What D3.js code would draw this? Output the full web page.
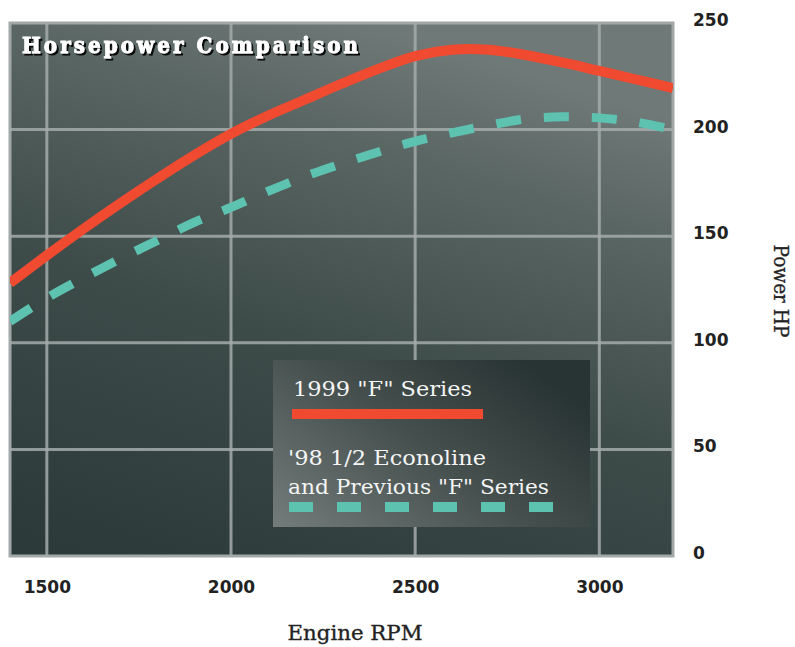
<!DOCTYPE html>
<html>
<head>
<meta charset="utf-8">
<script src="https://cdn.jsdelivr.net/npm/d3@7"></script>
<style>
  body { margin: 0; background: #fff; }
</style>
</head>
<body>
<div id="chart"></div>
<script>
// data
const rpm = [1400, 1500, 1600, 1700, 1800, 1900, 2000, 2100, 2200, 2300, 2400, 2500, 2600, 2700, 2800, 2900, 3000, 3100, 3200];
const hp1999F = [128, 141, 153.5, 165.5, 177, 188, 198, 206.5, 214, 221.5, 228.5, 234.5, 237.5, 237.5, 235, 231.5, 227.5, 223.5, 219.5];
const hpEconoline = [110, 121, 130.5, 139.5, 148, 156.5, 163.5, 171, 178, 184, 189.5, 194.5, 198.5, 202, 205, 206, 205.5, 203.5, 200];
const xTicks = [1500, 2000, 2500, 3000];
const yTicks = [0, 50, 100, 150, 200, 250];
const chartTitle = 'Horsepower Comparison';
const legendRed = ['1999 "F" Series'];
const legendTeal = ["'98 1/2 Econoline", 'and Previous "F" Series'];
const xTitle = 'Engine RPM';
const yTitle = 'Power HP';

const W = 795, H = 647;
const plot = { left: 10, right: 673, top: 23, bottom: 556 };
const red = '#f04a31';
const teal = '#5ec2b0';

const svg = d3.select('#chart')
  .append('svg')
  .attr('width', W)
  .attr('height', H);

const defs = svg.append('defs');

const bg = defs.append('linearGradient')
  .attr('id', 'bg')
  .attr('x1', 0.15).attr('y1', 1).attr('x2', 0.55).attr('y2', 0);
bg.append('stop').attr('offset', 0).attr('stop-color', '#2c3b3a');
bg.append('stop').attr('offset', 0.45).attr('stop-color', '#3d4b49');
bg.append('stop').attr('offset', 0.8).attr('stop-color', '#5a6664');
bg.append('stop').attr('offset', 1).attr('stop-color', '#6f7978');

const lg = defs.append('linearGradient')
  .attr('id', 'lg')
  .attr('x1', 0).attr('y1', 1).attr('x2', 1).attr('y2', 0.3);
lg.append('stop').attr('offset', 0).attr('stop-color', '#737c7a');
lg.append('stop').attr('offset', 0.55).attr('stop-color', '#454f4e');
lg.append('stop').attr('offset', 1).attr('stop-color', '#283433');

const shadow = defs.append('filter').attr('id', 'shadow');
shadow.append('feDropShadow')
  .attr('dx', 2).attr('dy', 2)
  .attr('stdDeviation', 0.6)
  .attr('flood-color', '#000')
  .attr('flood-opacity', 0.9);

defs.append('clipPath').attr('id', 'clip')
  .append('rect')
  .attr('x', plot.left).attr('y', plot.top)
  .attr('width', plot.right - plot.left)
  .attr('height', plot.bottom - plot.top);

const x = d3.scaleLinear()
  .domain([1400, 3200])
  .range([plot.left, plot.right]);

const y = d3.scaleLinear()
  .domain([0, 250])
  .range([plot.bottom, plot.top]);

// plot background
svg.append('rect')
  .attr('x', plot.left).attr('y', plot.top)
  .attr('width', plot.right - plot.left)
  .attr('height', plot.bottom - plot.top)
  .attr('fill', 'url(#bg)')
  .attr('stroke', '#a2a8a7')
  .attr('stroke-width', 3);

// grid
const grid = svg.append('g')
  .attr('stroke', '#a5acaa')
  .attr('stroke-width', 3)
  .attr('stroke-opacity', 0.85);

grid.selectAll('line.v')
  .data(xTicks)
  .enter()
  .append('line')
  .attr('x1', d => x(d)).attr('x2', d => x(d))
  .attr('y1', plot.top).attr('y2', plot.bottom);

grid.selectAll('line.h')
  .data(yTicks.filter(d => d > 0 && d < 250))
  .enter()
  .append('line')
  .attr('x1', plot.left).attr('x2', plot.right)
  .attr('y1', d => y(d)).attr('y2', d => y(d));

// title
svg.append('text')
  .attr('x', 22).attr('y', 53)
  .attr('textLength', 336)
  .attr('lengthAdjust', 'spacing')
  .attr('filter', 'url(#shadow)')
  .style('font-family', '"DejaVu Serif Condensed", "DejaVu Serif", serif')
  .style('font-weight', 'bold')
  .style('font-size', '22px')
  .attr('fill', '#fff')
  .attr('stroke', '#fff')
  .attr('stroke-width', 0.9)
  .text(chartTitle);

// legend
const legend = svg.append('g');
legend.append('rect')
  .attr('x', 273).attr('y', 360)
  .attr('width', 317).attr('height', 167)
  .attr('fill', 'url(#lg)');

const legendFont = '"DejaVu Serif Condensed", "DejaVu Serif", serif';

legend.append('text')
  .attr('x', 293).attr('y', 396)
  .attr('textLength', 179)
  .attr('lengthAdjust', 'spacingAndGlyphs')
  .style('font-family', legendFont)
  .style('font-size', '20px')
  .attr('fill', '#f5f5f5')
  .text(legendRed[0]);

legend.append('line')
  .attr('x1', 292).attr('x2', 483)
  .attr('y1', 414).attr('y2', 414)
  .attr('stroke', red)
  .attr('stroke-width', 10);

legend.selectAll('text.teal')
  .data(legendTeal)
  .enter()
  .append('text')
  .attr('x', 288)
  .attr('y', (d, i) => 465 + i * 29)
  .attr('textLength', (d, i) => i === 0 ? 198 : 261)
  .attr('lengthAdjust', 'spacingAndGlyphs')
  .style('font-family', legendFont)
  .style('font-size', '20px')
  .attr('fill', '#f5f5f5')
  .text(d => d);

legend.append('line')
  .attr('x1', 289).attr('x2', 554)
  .attr('y1', 507).attr('y2', 507)
  .attr('stroke', teal)
  .attr('stroke-width', 10)
  .attr('stroke-dasharray', '24,24');

// lines
const lineGen = (vals) => d3.line()
  .x((d, i) => x(rpm[i]))
  .y(d => y(d))
  .curve(d3.curveCatmullRom.alpha(0.5))(vals);

const lines = svg.append('g').attr('clip-path', 'url(#clip)');

lines.append('path')
  .attr('d', lineGen(hpEconoline))
  .attr('fill', 'none')
  .attr('stroke', teal)
  .attr('stroke-width', 9)
  .attr('stroke-dasharray', '25,23');

lines.append('path')
  .attr('d', lineGen(hp1999F))
  .attr('fill', 'none')
  .attr('stroke', red)
  .attr('stroke-width', 10);

// axes
const tickFont = '"DejaVu Sans", sans-serif';

const xAxis = svg.append('g')
  .attr('transform', 'translate(0,581)')
  .call(d3.axisBottom(x).tickValues(xTicks).tickSize(0).tickPadding(0).tickFormat(d3.format('d')));
xAxis.select('.domain').remove();
xAxis.selectAll('text')
  .style('font-family', tickFont)
  .style('font-weight', 'bold')
  .style('font-size', '17px')
  .attr('fill', '#222');

const yAxis = svg.append('g')
  .attr('transform', 'translate(693,-3)')
  .call(d3.axisRight(y).tickValues(yTicks).tickSize(0).tickPadding(0));
yAxis.select('.domain').remove();
yAxis.selectAll('text')
  .style('font-family', tickFont)
  .style('font-weight', 'bold')
  .style('font-size', '17px')
  .attr('fill', '#222');

// axis titles
svg.append('text')
  .attr('x', 355).attr('y', 640)
  .attr('text-anchor', 'middle')
  .attr('textLength', 135)
  .attr('lengthAdjust', 'spacingAndGlyphs')
  .style('font-family', legendFont)
  .style('font-size', '20px')
  .attr('fill', '#222')
  .attr('stroke', '#222')
  .attr('stroke-width', 0.3)
  .text(xTitle);

svg.append('text')
  .attr('transform', 'translate(774,291) rotate(90)')
  .attr('text-anchor', 'middle')
  .attr('textLength', 93)
  .attr('lengthAdjust', 'spacingAndGlyphs')
  .style('font-family', legendFont)
  .style('font-size', '20px')
  .attr('fill', '#222')
  .attr('stroke', '#222')
  .attr('stroke-width', 0.3)
  .text(yTitle);
</script>
</body>
</html>
